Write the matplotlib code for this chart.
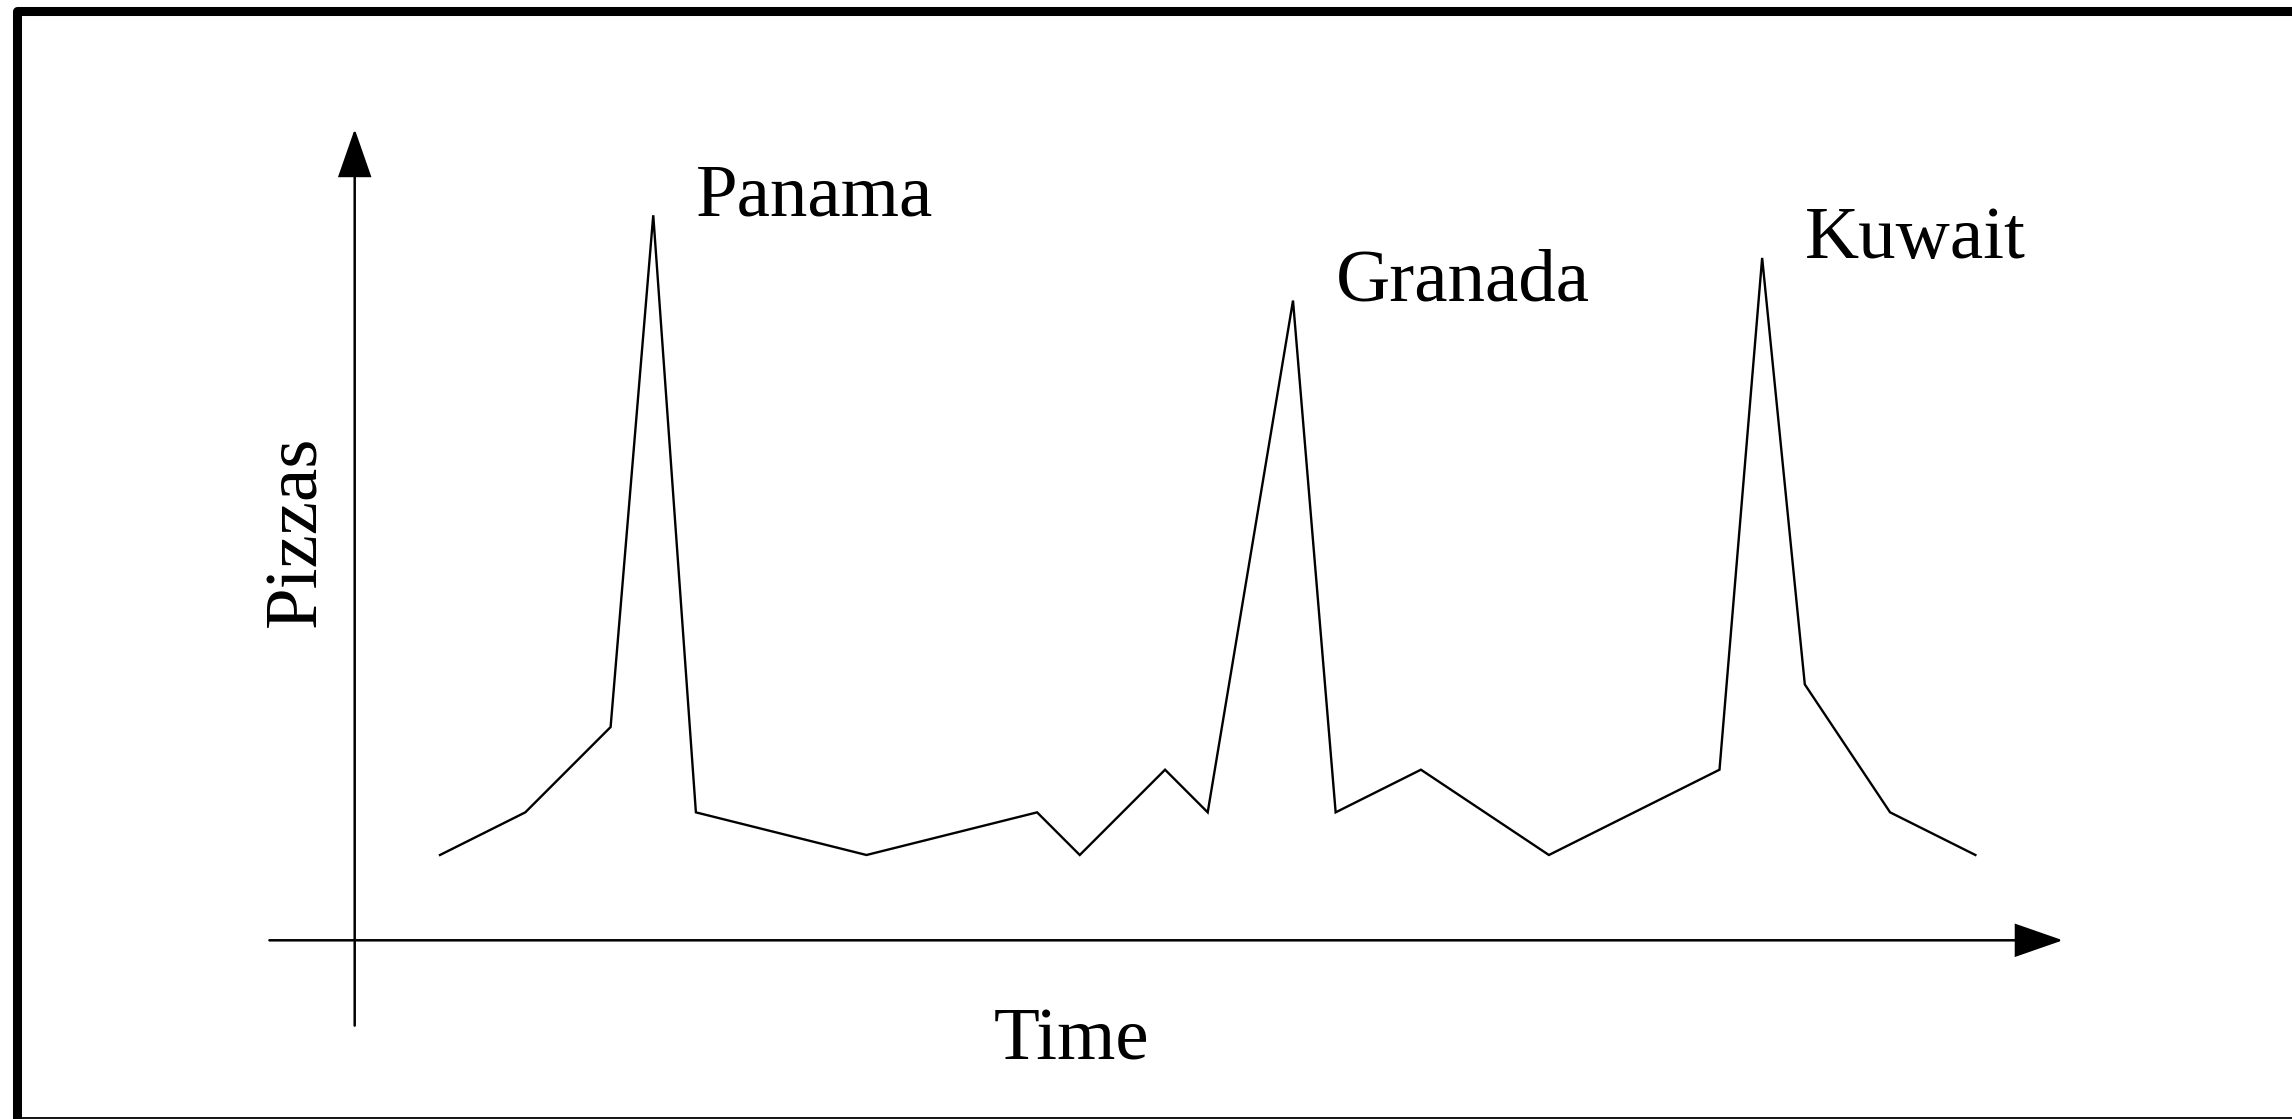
import matplotlib.pyplot as plt
from matplotlib.lines import Line2D

# sketch data: time steps and pizza counts
time = [0, 2, 4, 5, 6, 10, 14, 15, 17, 18, 20, 21, 23, 26, 30, 31, 32, 34, 36]
pizzas = [0, 1, 3, 15, 1, 0, 1, 0, 2, 1, 13, 1, 2, 0, 2, 14, 4, 1, 0]

peak_names = ["Panama", "Granada", "Kuwait"]
peak_index = [3, 10, 15]

W, H, DPI = 2292, 1119, 100
PX = 42.65  # pixels per data unit
X0, Y0 = 440, 855  # pixel position of data (0, 0)

plt.rcParams["font.family"] = ["Liberation Serif", "DejaVu Serif"]

fig = plt.figure(figsize=(W / DPI, H / DPI), dpi=DPI)
ax = fig.add_axes([0, 0, 1, 1])
ax.set_xlim(-X0 / PX, (W - X0) / PX)
ax.set_ylim((Y0 - H) / PX, Y0 / PX)
ax.axis("off")

# hand-drawn style axes with arrow heads
ax_origin = -2
arrow = dict(arrowstyle="-|>,head_length=1.55,head_width=0.54",
             mutation_scale=20, lw=1.8, color="black",
             shrinkA=0, shrinkB=0, joinstyle="miter")
ax.annotate("", xy=(38.05, ax_origin), xytext=(-4, ax_origin), arrowprops=arrow)
ax.annotate("", xy=(ax_origin, 17.02), xytext=(ax_origin, -4), arrowprops=arrow)

ax.plot(time, pizzas, color="black", lw=1.7, solid_joinstyle="miter")

for name, i in zip(peak_names, peak_index):
    ax.text(time[i] + 1, pizzas[i], name, fontsize=54, ha="left", va="baseline")

ax.text(14.8, -4.8, "Time", fontsize=54, ha="center", va="baseline")
ax.text(-2.93, 7.6, "Pizzas", fontsize=54, rotation=90, rotation_mode="anchor",
        ha="center", va="baseline")

# frame around the sketch (cropped on the right)
def fx(p):
    return p / W

def fy(p):
    return 1 - p / H

fig.add_artist(Line2D([fx(W + 20), fx(16.5), fx(16.5)],
                      [fy(10.5), fy(10.5), fy(H + 20)],
                      lw=6.5, color="black", solid_joinstyle="round",
                      solid_capstyle="butt"))
fig.add_artist(Line2D([fx(16), fx(W + 5)], [fy(1117.8), fy(1117.8)],
                      lw=1.3, color="black"))

fig.savefig("out.png", dpi=DPI)
